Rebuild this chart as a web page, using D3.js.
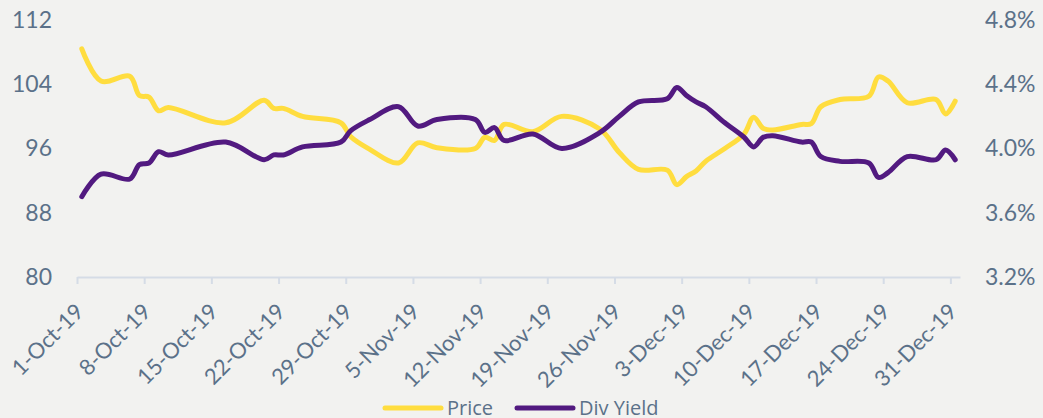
<!DOCTYPE html>
<html>
<head>
<meta charset="utf-8">
<script src="https://cdn.jsdelivr.net/npm/d3@7"></script>
<style>
	body { margin:0; background:#f2f2f0; }
	#container { width:1043px; height:418px; }
	.axis text { font-family: Lato, sans-serif; fill:#5b7189; }
	.legend text { font-family: "Open Sans", sans-serif; fill:#5b7189; font-size:20px; }
</style>
</head>
<body>
<div id="container"></div>
<script>

// day offsets from 1-Oct-19
var days = [0, 2, 5, 6, 7, 8, 9, 15, 19, 20, 21, 23, 27, 28, 30, 33, 35, 37, 41, 42, 43, 44, 47, 50,
	54, 56, 58, 61, 62, 63, 64, 65, 67, 69, 70, 71, 72, 75, 76, 77, 79, 82, 83, 84, 86, 89, 90, 91];
var price = [108.4, 104.4, 105.0, 102.6, 102.4, 100.7, 101.1, 99.2, 102.0, 101.0, 101.0, 100.0, 99.2, 97.5, 95.9, 94.2,
	96.7, 96.1, 96.0, 97.4, 97.0, 99.0, 98.1, 100.0, 98.4, 95.5, 93.4, 93.3, 91.5, 92.5, 93.2, 94.4,
	96.0, 97.8, 99.9, 98.5, 98.3, 99.0, 99.1, 101.2, 102.1, 102.5, 104.9, 104.4, 101.7, 102.1, 100.3, 101.9];
var divYield = [3.70, 3.84, 3.81, 3.90, 3.91, 3.98, 3.96, 4.04, 3.93, 3.96, 3.96, 4.01, 4.04, 4.11, 4.18, 4.26,
	4.14, 4.18, 4.18, 4.10, 4.13, 4.05, 4.09, 4.00, 4.10, 4.20, 4.29, 4.31, 4.38, 4.33, 4.29, 4.26,
	4.16, 4.07, 4.01, 4.07, 4.08, 4.04, 4.04, 3.95, 3.92, 3.91, 3.82, 3.85, 3.95, 3.93, 3.99, 3.93];
var leftTicks = [80, 88, 96, 104, 112];
var rightTicks = [3.2, 3.6, 4.0, 4.4, 4.8];
var seriesNames = ["Price", "Div Yield"];
var seriesColors = ["#ffdd3f", "#521a80"];

var start = new Date(2019, 9, 1);
var end = new Date(2020, 0, 1);

function render() {
	var width = 1043, height = 418;
	var svg = d3.select("#container").append("svg")
		.attr("width", width)
		.attr("height", height);

	var x = d3.scaleTime().domain([start, end]).range([77, 960]);
	var yL = d3.scaleLinear().domain([80, 112]).range([277, 20]);
	var yR = d3.scaleLinear().domain([3.2, 4.8]).range([277, 20]);

	// points sit in the middle of each day
	var dates = days.map(d => d3.timeHour.offset(d3.timeDay.offset(start, d), 12));

	// x axis
	var tickDates = d3.range(0, 92, 7).map(d => d3.timeDay.offset(start, d));
	var fmt = d3.timeFormat("%-d-%b-%y");
	var xAxis = svg.append("g")
		.attr("class", "axis")
		.attr("transform", "translate(0,277)")
		.call(d3.axisBottom(x).tickValues(tickDates).tickSize(7).tickSizeOuter(0).tickFormat(""));
	xAxis.select(".domain").attr("stroke", "#d5dce6").attr("stroke-width", 2);
	xAxis.selectAll(".tick line").attr("stroke", "#d5dce6").attr("stroke-width", 2);

	svg.append("g")
		.attr("class", "axis")
		.selectAll("text")
		.data(tickDates)
		.enter()
		.append("text")
		.attr("transform", d => "translate(" + (x(d) + 8) + ",313) rotate(-45)")
		.attr("text-anchor", "end")
		.attr("font-size", 22)
		.text(d => fmt(d));

	// y axes
	var left = svg.append("g")
		.attr("class", "axis")
		.attr("transform", "translate(52,0)")
		.call(d3.axisLeft(yL).tickValues(leftTicks).tickSize(0).tickPadding(0));
	left.select(".domain").remove();
	left.selectAll("text").attr("font-size", 23);

	var right = svg.append("g")
		.attr("class", "axis")
		.attr("transform", "translate(985,0)")
		.call(d3.axisRight(yR).tickValues(rightTicks).tickSize(0).tickPadding(0).tickFormat(d => d.toFixed(1) + "%"));
	right.select(".domain").remove();
	right.selectAll("text").attr("font-size", 23);

	// lines
	var linePrice = d3.line()
		.x((d, i) => x(dates[i]))
		.y(d => yL(d))
		.curve(d3.curveCatmullRom.alpha(0.5));
	var lineYield = d3.line()
		.x((d, i) => x(dates[i]))
		.y(d => yR(d))
		.curve(d3.curveCatmullRom.alpha(0.5));

	svg.append("path")
		.datum(price)
		.attr("d", linePrice)
		.attr("fill", "none")
		.attr("stroke", seriesColors[0])
		.attr("stroke-width", 5)
		.attr("stroke-linecap", "round")
		.attr("stroke-linejoin", "round");

	svg.append("path")
		.datum(divYield)
		.attr("d", lineYield)
		.attr("fill", "none")
		.attr("stroke", seriesColors[1])
		.attr("stroke-width", 5)
		.attr("stroke-linecap", "round")
		.attr("stroke-linejoin", "round");

	// legend
	var legX = [385, 517];
	var leg = svg.append("g").attr("class", "legend");
	var items = leg.selectAll("g")
		.data(seriesNames)
		.enter()
		.append("g")
		.attr("transform", (d, i) => "translate(" + legX[i] + ",408)");
	items.append("line")
		.attr("x1", 0).attr("x2", 56)
		.attr("stroke", (d, i) => seriesColors[i])
		.attr("stroke-width", 5)
		.attr("stroke-linecap", "round");
	items.append("text")
		.attr("x", 62)
		.attr("y", 7)
		.text(d => d);
}

render();
</script>
</body>
</html>
